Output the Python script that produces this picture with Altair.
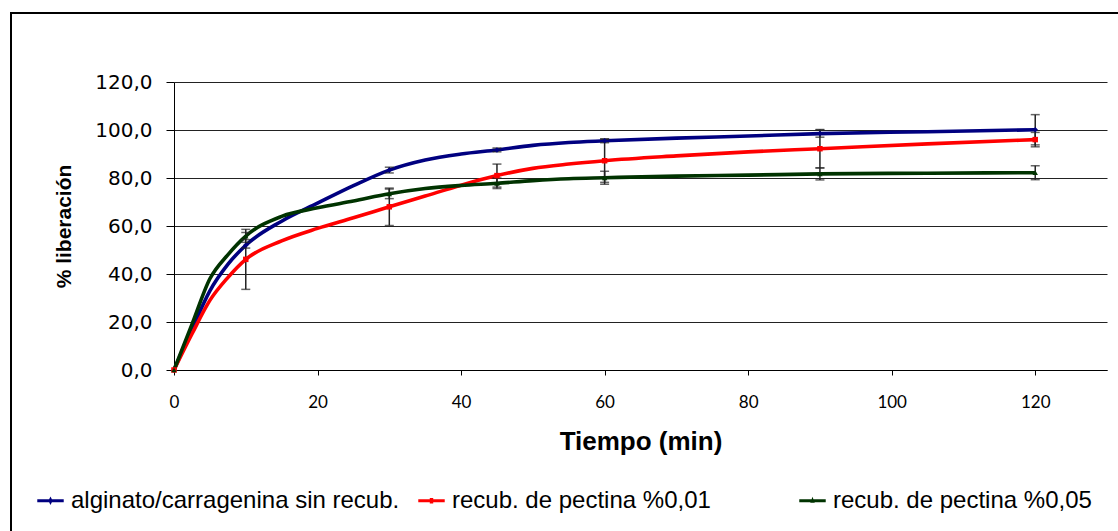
import altair as alt
import pandas as pd

series_names = [
    "alginato/carragenina sin recub.",
    "recub. de pectina %0,01",
    "recub. de pectina %0,05",
]
series_colors = ["#000080", "#FF0000", "#003300"]

# smoothed release curves
curve_time = [0, 2.5, 5, 7.5, 10, 15, 20, 25, 30, 35, 40, 45, 50, 55, 60, 70, 80, 90, 105, 120]
curve_blue = [0, 17, 33, 44, 52, 62, 69.5, 76.8, 83.3, 87.5, 90, 91.7, 93.6, 94.8, 95.5, 96.6, 97.5, 98.5, 99.3, 100.1]
curve_red = [0, 15, 29, 38.5, 46.1, 53.8, 59, 63.4, 68, 72.5, 77, 81, 84, 85.8, 87.2, 89.2, 90.9, 92.2, 94.2, 96]
curve_green = [0, 19, 38, 48, 55.8, 64, 67.6, 70.4, 73.4, 75.6, 76.9, 77.8, 78.9, 79.7, 80.1, 80.8, 81.2, 81.7, 82, 82.2]

# measured points with error bars
marker_time = [0, 10, 30, 45, 60, 90, 120]
mean_blue = [0, 52, 83.3, 91.7, 95.5, 98.5, 100.1]
err_blue = [0, 1.2, 1.2, 0.8, 0.8, 1.5, 6.3]
mean_red = [0, 46.1, 68, 81, 87.2, 92.2, 96]
err_red = [0, 12.5, 7.8, 4.8, 9, 8, 3]
mean_green = [0, 55.8, 73.4, 77.8, 80.1, 81.7, 82.2]
err_green = [0, 1.5, 2, 2.2, 2.7, 2.5, 2.9]

x_ticks = [0, 20, 40, 60, 80, 100, 120]
y_ticks = [0, 20, 40, 60, 80, 100, 120]

marker_shapes = ["diamond", "square", "triangle-up"]
legend_paths = [
    "M-1,-0.11H1V0.11H-1Z M0,-0.32L0.16,0L0,0.32L-0.16,0Z",
    "M-1,-0.11H1V0.11H-1Z M-0.13,-0.2H0.13V0.2H-0.13Z",
    "M-1,-0.11H1V0.11H-1Z M0,-0.3L0.17,0.16H-0.17Z",
]

rows = []
for name, vals in zip(series_names, [curve_blue, curve_red, curve_green]):
    for t, v in zip(curve_time, vals):
        rows.append({"serie": name, "t": t, "v": v})
df_curve = pd.DataFrame(rows)

rows = []
for name, means, errs in zip(series_names, [mean_blue, mean_red, mean_green], [err_blue, err_red, err_green]):
    for t, m, e in zip(marker_time, means, errs):
        rows.append({"serie": name, "t": t, "v": m, "lo": m - e, "hi": m + e, "e": e})
df_pts = pd.DataFrame(rows)
df_err = df_pts[df_pts["e"] > 0]

color_scale = alt.Scale(domain=series_names, range=series_colors)
x_scale = alt.Scale(domain=[0, 130], nice=False, zero=True)
y_scale = alt.Scale(domain=[0, 120], nice=False)

W, H = 933, 288
PL, PT = 174, 82

x_axis = alt.Axis(
    values=x_ticks, grid=False, title="Tiempo (min)", labelFlush=False,
    domainColor="#000", domainWidth=1, tickColor="#000", tickSize=5,
    labelFont="Lato", labelFontSize=17, labelColor="#000", labelPadding=19,
    titleFont="Liberation Sans", titleFontSize=26, titleFontWeight="bold", titleColor="#000",
    titleY=71, titleBaseline="middle",
)
y_axis = alt.Axis(
    values=y_ticks, grid=True, gridColor="#222", gridWidth=1, title="% liberación",
    domainColor="#000", domainWidth=1, tickColor="#000", tickSize=8,
    labelFont="DejaVu Sans", labelFontSize=20, labelColor="#000", labelPadding=14,
    labelExpr="replace(format(datum.value, '.1f'), '.', ',')",
    titleFont="Liberation Sans", titleFontSize=21, titleFontWeight="bold", titleColor="#000",
    titleX=-110, titleY=144, titleBaseline="middle", titleAngle=-90,
)

def X(field):
    return alt.X(field, scale=x_scale, axis=x_axis, title="Tiempo (min)")

def Y(field):
    return alt.Y(field, scale=y_scale, axis=y_axis, title="% liberación")

frame = alt.Chart(pd.DataFrame({"a": [0]})).mark_rect(
    fillOpacity=0, stroke="#000", strokeWidth=2
).encode(
    x=alt.value(11 - PL), x2=alt.value(1118 - PL + 30),
    y=alt.value(13 - PT), y2=alt.value(531 - PT + 30),
)

line_layers = []
for name, col in zip(series_names, series_colors):
    line_layers.append(
        alt.Chart(df_curve[df_curve["serie"] == name]).mark_line(
            interpolate="monotone", strokeWidth=3.6, color=col
        ).encode(
            x=X("t:Q"),
            y=Y("v:Q"),
        )
    )

err_rules = alt.Chart(df_err).mark_rule(color="#222", strokeWidth=1.5).encode(
    x=X("t:Q"),
    y=Y("lo:Q"),
    y2="hi:Q",
)
cap_lo = alt.Chart(df_err).mark_tick(color="#222", orient="horizontal", size=9, thickness=1.5).encode(
    x=X("t:Q"),
    y=Y("lo:Q"),
)
cap_hi = alt.Chart(df_err).mark_tick(color="#222", orient="horizontal", size=9, thickness=1.5).encode(
    x=X("t:Q"),
    y=Y("hi:Q"),
)

marker_layers = []
for name, col, shp in zip(series_names, series_colors, marker_shapes):
    marker_layers.append(
        alt.Chart(df_pts[df_pts["serie"] == name]).mark_point(
            filled=True, shape=shp, size=30, color=col, opacity=1
        ).encode(
            x=X("t:Q"),
            y=Y("v:Q"),
        )
    )

leg = alt.Legend(
    orient="none", legendX=37 - PL, legendY=487 - PT, direction="horizontal", title=None,
    labelFont="Liberation Sans", labelFontSize=24, labelColor="#000", labelLimit=600,
    labelOffset=7, symbolSize=700, symbolStrokeWidth=0, columnPadding=18, padding=0,
    symbolOpacity=1, gridAlign="all",
)
legend_layer = alt.Chart(pd.DataFrame({"serie": series_names})).mark_point(
    filled=True, clip=True, opacity=1
).encode(
    x=alt.value(-3000), y=alt.value(-3000),
    color=alt.Color("serie:N", scale=color_scale, legend=leg),
    shape=alt.Shape("serie:N", scale=alt.Scale(domain=series_names, range=legend_paths), legend=leg),
)

chart = alt.layer(
    frame, *line_layers, err_rules, cap_lo, cap_hi, *marker_layers, legend_layer
).properties(
    width=W, height=H,
    autosize=alt.AutoSizeParams(type="none"),
    padding={"left": PL, "top": PT, "right": 1118 - PL - W, "bottom": 531 - PT - H},
    background="#ffffff",
).configure_view(stroke=None)

chart.save("out.html", embed_options={"renderer": "svg", "actions": False})
